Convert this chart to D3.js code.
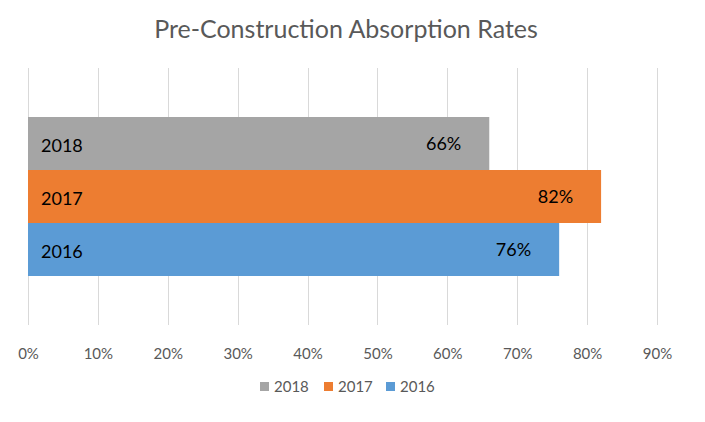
<!DOCTYPE html>
<html>
<head>
<meta charset="utf-8">
<script src="https://cdn.jsdelivr.net/npm/d3@7"></script>
<style>
  body { margin: 0; background: #fff; }
  text { font-family: Lato, "Open Sans", sans-serif; }
</style>
</head>
<body>
<div id="chart"></div>
<script>
//
// Pre-Construction Absorption Rates - horizontal clustered bar
//
const seriesNames = ["2018", "2017", "2016"]
const seriesValues = [0.66, 0.82, 0.76]
const seriesColors = ["#a5a5a5", "#ed7d31", "#5b9bd5"]
const tickValues = [0, 0.1, 0.2, 0.3, 0.4, 0.5, 0.6, 0.7, 0.8, 0.9]

const width = 705
const height = 422
const margin = { top: 68, right: 48, bottom: 97, left: 28 }

const data = seriesNames.map(function(name, i) {
  return { name: name, value: seriesValues[i], color: seriesColors[i] }
})

let svg = d3.select("#chart")
  .append("svg")
    .attr("width", width)
    .attr("height", height)

// Title
svg.append("text")
  .attr("x", 346)
  .attr("y", 38)
  .attr("text-anchor", "middle")
  .style("font-size", "25px")
  .style("fill", "#595959")
  .text("Pre-Construction Absorption Rates")

let g = svg.append("g")
  .attr("transform", "translate(" + margin.left + "," + margin.top + ")")

// X scale
let x = d3.scaleLinear()
  .domain([0, 0.9])
  .range([0, 629])

// Y: one category band holding three series
let y = d3.scaleBand()
  .domain(seriesNames)
  .range([49, 208])
  .padding(0)

// Gridlines
g.selectAll("line.grid")
  .data(tickValues)
  .enter()
  .append("line")
    .attr("class", "grid")
    .attr("x1", function(d) { return Math.round(x(d)) + 0.5 })
    .attr("x2", function(d) { return Math.round(x(d)) + 0.5 })
    .attr("y1", 0)
    .attr("y2", 257)
    .attr("stroke", "#d9d9d9")
    .attr("stroke-width", 1)

// Axis labels
let xAxis = g.append("g")
  .attr("transform", "translate(0,257)")
  .call(d3.axisBottom(x).tickValues(tickValues).tickFormat(d3.format(".0%")).tickSize(0).tickPadding(23))
xAxis.select(".domain").remove()
xAxis.selectAll("text")
  .style("font-size", "15px")
  .style("font-family", "Lato, sans-serif")
  .style("fill", "#595959")

// Bars
g.selectAll("rect.bar")
  .data(data)
  .enter()
  .append("rect")
    .attr("class", "bar")
    .attr("x", x(0))
    .attr("y", function(d) { return y(d.name) })
    .attr("width", function(d) { return x(d.value) - x(0) })
    .attr("height", y.bandwidth())
    .attr("fill", function(d) { return d.color })

// Year labels inside the bars
g.selectAll("text.year")
  .data(data)
  .enter()
  .append("text")
    .attr("class", "year")
    .attr("x", x(0) + 13)
    .attr("y", function(d) { return y(d.name) + y.bandwidth() / 2 + 8 })
    .style("font-size", "18px")
    .style("fill", "#000")
    .text(function(d) { return d.name })

// Value labels, inside end
g.selectAll("text.value")
  .data(data)
  .enter()
  .append("text")
    .attr("class", "value")
    .attr("x", function(d) { return x(d.value) - 28 })
    .attr("y", function(d) { return y(d.name) + y.bandwidth() / 2 + 6 })
    .attr("text-anchor", "end")
    .style("font-size", "18px")
    .style("fill", "#000")
    .text(function(d) { return d3.format(".0%")(d.value) })

// Legend
const legendX = [260, 324, 386]
let legend = svg.selectAll("g.legend")
  .data(data)
  .enter()
  .append("g")
    .attr("class", "legend")
    .attr("transform", function(d, i) { return "translate(" + legendX[i] + ",382)" })
legend.append("rect")
  .attr("width", 9)
  .attr("height", 9)
  .attr("fill", function(d) { return d.color })
legend.append("text")
  .attr("x", 14)
  .attr("y", 10)
  .style("font-size", "15px")
  .style("fill", "#595959")
  .text(function(d) { return d.name })
</script>
</body>
</html>
